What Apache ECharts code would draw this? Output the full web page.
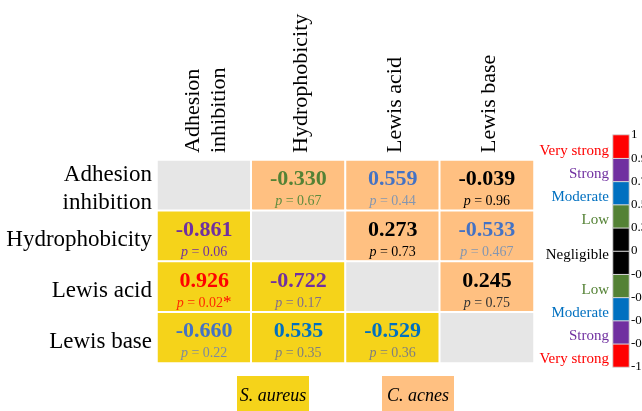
<!DOCTYPE html>
<html>
<head>
<meta charset="utf-8">
<script src="https://cdn.jsdelivr.net/npm/echarts@6/dist/echarts.min.js"></script>
<style>
  html, body { margin: 0; padding: 0; background: #ffffff; }
  #chart { width: 642px; height: 411px; }
</style>
</head>
<body>
<div id="chart"></div>
<script>
// ---- data ----
const variables = ['Adhesion\ninhibition', 'Hydrophobicity', 'Lewis acid', 'Lewis base'];
// Pearson r; lower triangle = S. aureus, upper triangle = C. acnes
const rValues = [
  [null, -0.330, 0.559, -0.039],
  [-0.861, null, 0.273, -0.533],
  [0.926, -0.722, null, 0.245],
  [-0.660, 0.535, -0.529, null]
];
const pValues = [
  [null, '0.67', '0.44', '0.96'],
  ['0.06', null, '0.73', '0.467'],
  ['0.02', '0.17', null, '0.75'],
  ['0.22', '0.35', '0.36', null]
];
const groups = ['S. aureus', 'C. acnes'];
// colour scale segments, bottom to top
const scaleSegments = ['Very strong', 'Strong', 'Moderate', 'Low', 'Negligible',
                       'Negligible', 'Low', 'Moderate', 'Strong', 'Very strong'];
const scaleTicks = ['-1', '-0.9', '-0.7', '-0.5', '-0.3', '0', '0.3', '0.5', '0.7', '0.9', '1'];

// ---- styles ----
const FONT = '"Liberation Serif", "Times New Roman", serif';
const CLASS_COLORS = {
  'Very strong': '#FF0000',
  'Strong': '#7030A0',
  'Moderate': '#0070C0',
  'Low': '#548235',
  'Negligible': '#000000'
};
const GROUP_COLORS = ['#F5D31A', '#FFC081'];
const DIAGONAL_COLOR = '#E6E6E6';
const valueColors = [
  [null, '#548235', '#4472C4', '#000000'],
  ['#7030A0', null, '#000000', '#4472C4'],
  ['#FF0000', '#7030A0', null, '#000000'],
  ['#4472C4', '#0070C0', '#0070C0', null]
];
const pColors = [
  [null, '#5E8C3E', '#8496B0', '#000000'],
  ['#7030A0', null, '#000000', '#8496B0'],
  ['#FF2A00', '#806D8F', null, '#333333'],
  ['#7D8AA0', '#7F7F7F', '#7F7F7F', null]
];

// ---- heatmap cells ----
const cellData = [];
const cellRich = {
  star: { fontFamily: FONT, fontSize: 17, color: '#FF0000', lineHeight: 20 }
};
rValues.forEach((row, i) => {
  row.forEach((r, j) => {
    const k = i * 4 + j;
    const color = r === null ? DIAGONAL_COLOR : (i > j ? GROUP_COLORS[0] : GROUP_COLORS[1]);
    cellData.push({
      value: [j, i, r === null ? 0 : r],
      itemStyle: { color: color },
      label: { show: r !== null }
    });
    if (r !== null) {
      cellRich['v' + k] = { fontFamily: FONT, fontSize: 22, fontWeight: 'bold', color: valueColors[i][j], lineHeight: 24 };
      cellRich['pi' + k] = { fontFamily: FONT, fontSize: 14, fontStyle: 'italic', color: pColors[i][j], lineHeight: 20 };
      cellRich['pt' + k] = { fontFamily: FONT, fontSize: 14, color: pColors[i][j], lineHeight: 20 };
    }
  });
});

function cellLabel(params) {
  const j = params.value[0], i = params.value[1];
  const r = rValues[i][j];
  if (r === null) return '';
  const k = i * 4 + j;
  const p = pValues[i][j];
  const star = parseFloat(p) < 0.05 ? '{star|*}' : '';
  return '{v' + k + '|' + r.toFixed(3) + '}\n{pi' + k + '|p}{pt' + k + '| = ' + p + '}' + star;
}

// ---- colour scale ----
const scaleData = scaleSegments.map((c, k) => ({
  value: [0, k, k],
  itemStyle: { color: CLASS_COLORS[c] }
}));
// class names sit at segment centres (half-steps); the two black segments share one name
const classLabels = new Array(21).fill('');
scaleSegments.forEach((c, k) => {
  if (c === 'Negligible') classLabels[10] = c;
  else classLabels[2 * k + 1] = c;
});
const classKeys = Object.keys(CLASS_COLORS);
const classRich = {};
classKeys.forEach((c, idx) => {
  classRich['c' + idx] = { fontFamily: FONT, fontSize: 15, color: CLASS_COLORS[c], padding: [8, 0, 0, 0] };
});

const chart = echarts.init(document.getElementById('chart'), null, { renderer: 'canvas' });

chart.setOption({
  backgroundColor: '#ffffff',
  animation: false,
  grid: [
    { left: 157, top: 160, width: 377, height: 203, containLabel: false, outerBoundsMode: 'none' },
    { left: 613, top: 135, width: 16, height: 232, containLabel: false, outerBoundsMode: 'none' }
  ],
  xAxis: [
    {
      type: 'category', gridIndex: 0, position: 'top',
      data: variables,
      axisLine: { show: false }, axisTick: { show: false }, splitLine: { show: false },
      axisLabel: {
        interval: 0, rotate: -90, margin: 7,
        fontFamily: FONT, fontSize: 22, lineHeight: 26, color: '#000000',
        formatter: v => v.split('\n').map(s => '{h|' + s + '}').join('\n'),
        rich: { h: { fontFamily: FONT, fontSize: 22, lineHeight: 26, color: '#000000', padding: [5, 0, 0, 0] } }
      }
    },
    { type: 'category', gridIndex: 1, data: ['scale'], show: false }
  ],
  yAxis: [
    {
      type: 'category', gridIndex: 0, inverse: true,
      data: variables,
      axisLine: { show: false }, axisTick: { show: false }, splitLine: { show: false },
      axisLabel: {
        interval: 0, margin: 5,
        fontFamily: FONT, fontSize: 23, lineHeight: 28, color: '#000000', align: 'right',
        formatter: v => v.split('\n').map(s => '{r|' + s + '}').join('\n'),
        rich: { r: { fontFamily: FONT, fontSize: 23, lineHeight: 28, color: '#000000', padding: [8, 0, 0, 0] } }
      }
    },
    { type: 'category', gridIndex: 1, data: scaleSegments.map((c, k) => k), show: false },
    {
      type: 'value', gridIndex: 1, position: 'left', min: 0, max: 20, interval: 1,
      axisLine: { show: false }, axisTick: { show: false }, splitLine: { show: false },
      axisLabel: {
        margin: 4, showMinLabel: true, showMaxLabel: true,
        fontFamily: FONT, fontSize: 15,
        formatter: v => {
          const name = classLabels[Math.round(v)];
          return name ? '{c' + classKeys.indexOf(name) + '|' + name + '}' : '';
        },
        rich: classRich
      }
    },
    {
      type: 'value', gridIndex: 1, position: 'right', min: 0, max: 10, interval: 1,
      axisLine: { show: false }, axisTick: { show: false }, splitLine: { show: false },
      axisLabel: {
        margin: 2, showMinLabel: true, showMaxLabel: true,
        fontFamily: FONT, fontSize: 13, color: '#000000',
        formatter: v => scaleTicks[Math.round(v)]
      }
    }
  ],
  series: [
    {
      type: 'heatmap', xAxisIndex: 0, yAxisIndex: 0,
      data: cellData,
      itemStyle: { borderColor: '#ffffff', borderWidth: 2 },
      label: {
        show: true, offset: [0, 4],
        formatter: cellLabel,
        rich: cellRich
      },
      emphasis: { disabled: true }
    },
    {
      type: 'heatmap', xAxisIndex: 1, yAxisIndex: 1,
      data: scaleData,
      itemStyle: { borderColor: '#D9D9D9', borderWidth: 1 },
      label: { show: false },
      emphasis: { disabled: true }
    }
  ],
  graphic: groups.map((g, idx) => ({
    type: 'group',
    left: idx === 0 ? 237 : 382,
    top: 376,
    children: [
      { type: 'rect', shape: { x: 0, y: 0, width: 72, height: 36 }, style: { fill: GROUP_COLORS[idx] } },
      {
        type: 'text', x: 36, y: 20,
        style: {
          text: g, fontFamily: FONT, fontSize: 18, fontStyle: 'italic',
          fill: '#000000', align: 'center', verticalAlign: 'middle'
        }
      }
    ]
  }))
});
</script>
</body>
</html>
